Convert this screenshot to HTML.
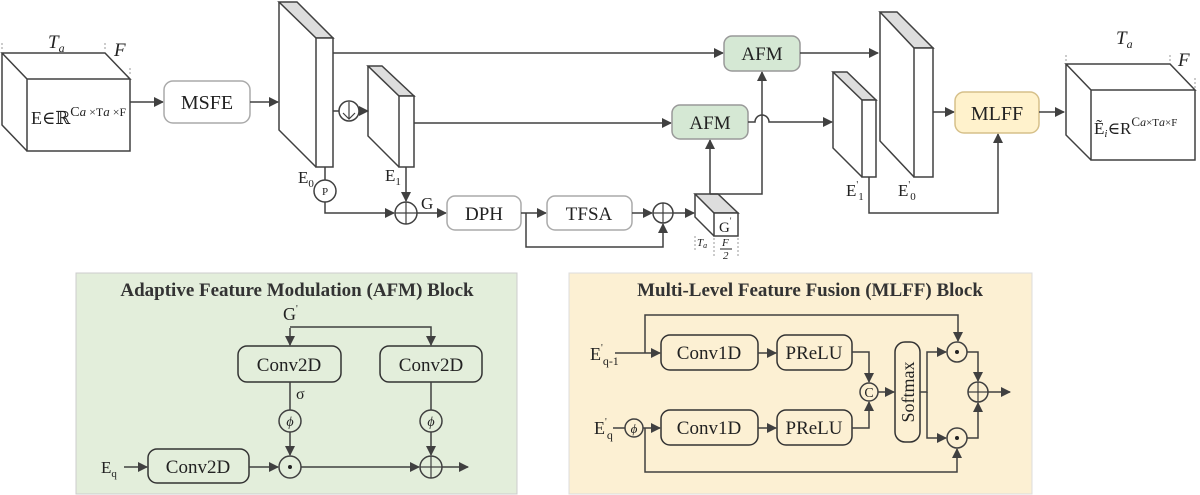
<!DOCTYPE html>
<html><head><meta charset="utf-8"><style>
html,body{margin:0;padding:0;background:#fff;}
svg{display:block;}
svg text{font-family:"Liberation Serif","DejaVu Serif",serif;}
</style></head><body>
<svg width="1200" height="495" viewBox="0 0 1200 495" xmlns="http://www.w3.org/2000/svg" font-family="Liberation Serif, serif">
<defs>
<marker id="a" markerWidth="10" markerHeight="10" refX="9" refY="5" orient="auto" markerUnits="userSpaceOnUse">
<path d="M0,0 L10,5 L0,10 z" fill="#404040"/></marker>
</defs>
<g stroke="#404040" stroke-width="1.5" fill="none">
<path d="M2,53 L105,53 L130,79 L27,79 Z M2,53 L2,125 L27,151 M27,79 L27,151 L130,151 L130,79" fill="#fff"/>
<path d="M2,43 V50 M105,43 V50 M130,68 V76" stroke="#999" stroke-dasharray="2,2" stroke-width="1"/>
<line x1="130" y1="102" x2="163" y2="102" marker-end="url(#a)"/>
<rect x="164" y="81" width="86" height="42" rx="9" stroke="#aaa" fill="#fff"/>
<line x1="250" y1="102" x2="278" y2="102" marker-end="url(#a)"/>
<path d="M279,2 L297,2 L333,38 L316,38 Z" fill="#ddd"/>
<path d="M279,2 L279,130 L316,167" />
<rect x="316" y="38" width="17" height="129" fill="#fff"/>
<line x1="333" y1="53" x2="723" y2="53" marker-end="url(#a)"/>
<line x1="333" y1="111" x2="339" y2="111"/>
<circle cx="349" cy="111" r="10" fill="#fff"/>
<path d="M349,102 V119 M343,113 L349,119 L355,113" stroke-width="1.2"/>
<line x1="359" y1="111" x2="368" y2="111" marker-end="url(#a)"/>
<path d="M368,66 L382,66 L414,96 L399,96 Z" fill="#ddd"/>
<path d="M368,66 L368,136 L399,167"/>
<rect x="399" y="96" width="15" height="71" fill="#fff"/>
<line x1="414" y1="123" x2="671" y2="123" marker-end="url(#a)"/>
<line x1="325" y1="167" x2="325" y2="180"/>
<circle cx="325" cy="191" r="11" fill="#fff"/>
<path d="M325,202 V213 H394" marker-end="url(#a)"/>
<line x1="406" y1="167" x2="406" y2="201" marker-end="url(#a)"/>
<circle cx="406" cy="213" r="11" fill="#fff"/>
<path d="M395,213 H417 M406,202 V224" stroke-width="1.2"/>
<line x1="417" y1="213" x2="446" y2="213" marker-end="url(#a)"/>
<rect x="447" y="196" width="74" height="34" rx="8" stroke="#aaa" fill="#fff"/>
<line x1="521" y1="213" x2="546" y2="213" marker-end="url(#a)"/>
<rect x="547" y="196" width="85" height="34" rx="8" stroke="#aaa" fill="#fff"/>
<line x1="632" y1="213" x2="652" y2="213" marker-end="url(#a)"/>
<path d="M526,213 V247 H663 V224" marker-end="url(#a)"/>
<circle cx="663" cy="213" r="10" fill="#fff"/>
<path d="M653,213 H673 M663,203 V223" stroke-width="1.2"/>
<line x1="673" y1="213" x2="694" y2="213" marker-end="url(#a)"/>
<path d="M695,194 L718,194 L738,213 L714,213 Z" fill="#ddd"/>
<path d="M695,194 L695,217 L714,236"/>
<rect x="714" y="213" width="24" height="23" fill="#fff"/>
<path d="M695,236 V250 M714,238 V258 M738,238 V258" stroke="#999" stroke-dasharray="2,2" stroke-width="1"/>
<line x1="710" y1="194" x2="710" y2="140" marker-end="url(#a)"/>
<path d="M710,194 H762 V72" marker-end="url(#a)"/>
<rect x="724" y="36" width="76" height="35" rx="8" fill="#d5e8d4" stroke="#999"/>
<rect x="672" y="105" width="76" height="34" rx="8" fill="#d5e8d4" stroke="#999"/>
<path d="M748,122 H755 A7,7 0 0 1 769,122 H832" marker-end="url(#a)"/>
<line x1="800" y1="53" x2="878" y2="53" marker-end="url(#a)"/>
<path d="M880,12 L897,12 L933,48 L914,48 Z" fill="#ddd"/>
<path d="M880,12 L880,141 L914,177"/>
<rect x="914" y="48" width="19" height="129" fill="#fff"/>
<path d="M833,72 L847,72 L876,100 L862,100 Z" fill="#ddd"/>
<path d="M833,72 L833,148 L862,177"/>
<rect x="862" y="100" width="14" height="77" fill="#fff"/>
<path d="M869,177 V213 H998 V134" marker-end="url(#a)"/>
<line x1="933" y1="112" x2="954" y2="112" marker-end="url(#a)"/>
<rect x="955" y="92" width="84" height="41" rx="9" fill="#fff2cc" stroke="#d6c08a"/>
<line x1="1039" y1="112" x2="1064" y2="112" marker-end="url(#a)"/>
<path d="M1066,64 L1170,64 L1195,90 L1091,90 Z M1066,64 L1066,135 L1091,160 M1091,90 L1091,160 L1195,160 L1195,90" fill="#fff"/>
<path d="M1066,55 V62 M1170,55 V62 M1195,78 V88" stroke="#999" stroke-dasharray="2,2" stroke-width="1"/>
</g>
<g fill="#222" font-size="17" font-family="Liberation Serif, serif">
<text x="48" y="48" font-style="italic" font-size="19">T<tspan font-size="12" dy="4">a</tspan></text>
<text x="114" y="56" font-style="italic" font-size="19">F</text>
<text x="31" y="124" font-size="18">E∈ℝ<tspan font-size="14" dy="-8">C</tspan><tspan font-size="13" font-style="italic">a</tspan><tspan font-size="12"> ×T</tspan><tspan font-size="13" font-style="italic">a</tspan><tspan font-size="12"> ×F</tspan></text>
<text x="207" y="109" text-anchor="middle" font-size="20">MSFE</text>
<text x="298" y="183" font-size="17">E<tspan font-size="11" dy="4">0</tspan></text>
<text x="325" y="195" text-anchor="middle" font-size="11">P</text>
<text x="385" y="181" font-size="17">E<tspan font-size="11" dy="4">1</tspan></text>
<text x="421" y="209" font-size="17">G</text>
<text x="484" y="220" text-anchor="middle" font-size="19">DPH</text>
<text x="589" y="220" text-anchor="middle" font-size="19">TFSA</text>
<text x="719" y="232" font-size="15">G<tspan font-size="9" dy="-8">'</tspan></text>
<text x="697" y="246" font-style="italic" font-size="11">T<tspan font-size="8" dy="2">a</tspan></text>
<text x="722" y="246" font-style="italic" font-size="11">F</text>
<line x1="720" y1="249" x2="732" y2="249" stroke="#222"/>
<text x="723" y="259" font-style="italic" font-size="11">2</text>
<text x="762" y="60" text-anchor="middle" font-size="19">AFM</text>
<text x="710" y="129" text-anchor="middle" font-size="19">AFM</text>
<text x="846" y="196" font-size="17">E<tspan font-size="10" dy="-8">'</tspan><tspan font-size="11" dy="12">1</tspan></text>
<text x="898" y="196" font-size="17">E<tspan font-size="10" dy="-8">'</tspan><tspan font-size="11" dy="12">0</tspan></text>
<text x="997" y="120" text-anchor="middle" font-size="20">MLFF</text>
<text x="1116" y="44" font-style="italic" font-size="19">T<tspan font-size="12" dy="4">a</tspan></text>
<text x="1178" y="66" font-style="italic" font-size="19">F</text>
<text x="1094" y="134" font-size="17">Ẽ<tspan font-size="11" dy="3" font-style="italic">i</tspan><tspan dy="-3">∈R</tspan><tspan font-size="13" dy="-8">C</tspan><tspan font-size="12" font-style="italic">a</tspan><tspan font-size="11">×T</tspan><tspan font-size="12" font-style="italic">a</tspan><tspan font-size="11">×F</tspan></text>
</g>

<rect x="76" y="273" width="441" height="221" fill="#e3eedb" stroke="#ccc"/>
<text x="297" y="296" text-anchor="middle" font-weight="bold" font-size="19" fill="#333" font-family="Liberation Serif, serif">Adaptive Feature Modulation (AFM) Block</text>
<g stroke="#404040" stroke-width="1.5" fill="none">
<line x1="290" y1="328" x2="290" y2="345" marker-end="url(#a)"/>
<path d="M290,327 H431 V345" marker-end="url(#a)"/>
<rect x="238" y="346" width="103" height="36" rx="9" fill="#e3eedb" stroke="#333"/>
<rect x="380" y="346" width="102" height="36" rx="9" fill="#e3eedb" stroke="#333"/>
<line x1="290" y1="382" x2="290" y2="410"/>
<circle cx="290" cy="421" r="11"/>
<line x1="290" y1="432" x2="290" y2="455" marker-end="url(#a)"/>
<line x1="431" y1="382" x2="431" y2="410"/>
<circle cx="431" cy="421" r="11"/>
<line x1="431" y1="432" x2="431" y2="455" marker-end="url(#a)"/>
<line x1="124" y1="467" x2="147" y2="467" marker-end="url(#a)"/>
<rect x="148" y="449" width="101" height="34" rx="9" fill="#e3eedb" stroke="#333"/>
<line x1="249" y1="467" x2="278" y2="467" marker-end="url(#a)"/>
<circle cx="290" cy="467" r="11"/>
<line x1="301" y1="467" x2="419" y2="467" marker-end="url(#a)"/>
<circle cx="431" cy="467" r="11"/>
<path d="M420,467 H442 M431,456 V478" stroke-width="1.2"/>
<line x1="442" y1="467" x2="468" y2="467" marker-end="url(#a)"/>
</g>
<circle cx="290" cy="467" r="2" fill="#222"/>
<g fill="#222" font-size="19" font-family="Liberation Serif, serif">
<text x="283" y="320" font-size="18">G<tspan font-size="10" dy="-8">'</tspan></text>
<text x="289" y="371" text-anchor="middle">Conv2D</text>
<text x="431" y="371" text-anchor="middle">Conv2D</text>
<text x="296" y="399" font-size="16">σ</text>
<text x="290" y="426" text-anchor="middle" font-style="italic" font-size="14">ϕ</text>
<text x="431" y="426" text-anchor="middle" font-style="italic" font-size="14">ϕ</text>
<text x="101" y="473" font-size="17">E<tspan font-size="11" dy="4">q</tspan></text>
<text x="198" y="473" text-anchor="middle">Conv2D</text>
</g>

<rect x="569" y="273" width="463" height="221" fill="#fcf0d3" stroke="#ddd"/>
<text x="810" y="296" text-anchor="middle" font-weight="bold" font-size="19" fill="#333" font-family="Liberation Serif, serif">Multi-Level Feature Fusion (MLFF) Block</text>
<g stroke="#404040" stroke-width="1.5" fill="none">
<line x1="615" y1="353" x2="660" y2="353" marker-end="url(#a)"/>
<path d="M645,353 V315 H958 V341" marker-end="url(#a)"/>
<rect x="661" y="335" width="97" height="35" rx="9" fill="#fcf0d3" stroke="#333"/>
<line x1="758" y1="353" x2="776" y2="353" marker-end="url(#a)"/>
<rect x="777" y="335" width="75" height="35" rx="9" fill="#fcf0d3" stroke="#333"/>
<rect x="661" y="410" width="97" height="35" rx="9" fill="#fcf0d3" stroke="#333"/>
<line x1="758" y1="428" x2="776" y2="428" marker-end="url(#a)"/>
<rect x="777" y="410" width="75" height="35" rx="9" fill="#fcf0d3" stroke="#333"/>
<path d="M852,352 H869 V382" marker-end="url(#a)"/>
<path d="M852,428 H869 V402" marker-end="url(#a)"/>
<circle cx="869" cy="392" r="9"/>
<line x1="878" y1="392" x2="894" y2="392" marker-end="url(#a)"/>
<rect x="895" y="342" width="25" height="100" rx="10" fill="#fcf0d3" stroke="#333"/>
<path d="M920,392 H927 V352 H946" marker-end="url(#a)"/>
<path d="M927,392 V438 H946" marker-end="url(#a)"/>
<circle cx="957" cy="352" r="10"/>
<circle cx="957" cy="438" r="10"/>
<path d="M967,352 H978 V381" marker-end="url(#a)"/>
<path d="M967,438 H978 V403" marker-end="url(#a)"/>
<circle cx="978" cy="392" r="10"/>
<path d="M968,392 H988 M978,382 V402" stroke-width="1.2"/>
<line x1="988" y1="392" x2="1010" y2="392" marker-end="url(#a)"/>
<line x1="613" y1="428" x2="625" y2="428"/>
<circle cx="634" cy="428" r="9"/>
<line x1="643" y1="428" x2="660" y2="428" marker-end="url(#a)"/>
<path d="M645,428 V472 H957 V449" marker-end="url(#a)"/>
</g>
<circle cx="957" cy="352" r="2" fill="#222"/>
<circle cx="957" cy="438" r="2" fill="#222"/>
<g fill="#222" font-size="19" font-family="Liberation Serif, serif">
<text x="590" y="360" font-size="18">E<tspan font-size="10" dy="-9">'</tspan><tspan font-size="12" dy="14">q-1</tspan></text>
<text x="594" y="434" font-size="18">E<tspan font-size="10" dy="-9">'</tspan><tspan font-size="12" dy="14">q</tspan></text>
<text x="634" y="433" text-anchor="middle" font-style="italic" font-size="13">ϕ</text>
<text x="709" y="359" text-anchor="middle">Conv1D</text>
<text x="814" y="359" text-anchor="middle">PReLU</text>
<text x="709" y="434" text-anchor="middle">Conv1D</text>
<text x="814" y="434" text-anchor="middle">PReLU</text>
<text x="869" y="397" text-anchor="middle" font-size="14">C</text>
<text x="0" y="0" text-anchor="middle" font-size="18" transform="translate(914,392) rotate(-90)">Softmax</text>
</g>
</svg>
</body></html>
